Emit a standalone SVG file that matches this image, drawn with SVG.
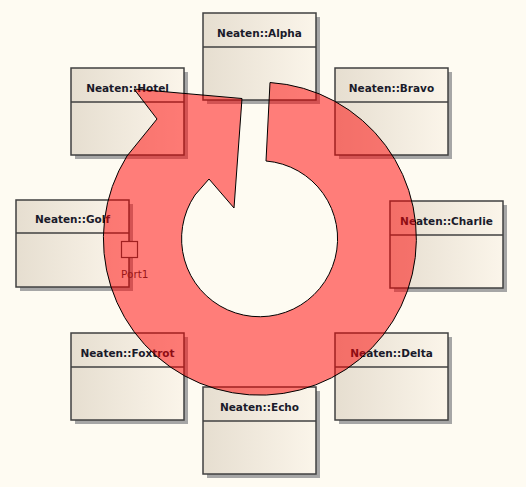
<svg xmlns="http://www.w3.org/2000/svg" width="526" height="487" viewBox="0 0 526 487">
  <defs>
    <linearGradient id="nodeFill" x1="0" y1="0" x2="1" y2="0">
      <stop offset="0" stop-color="#E6DED0"/>
      <stop offset="1" stop-color="#FBF5EA"/>
    </linearGradient>
  </defs>
  <style>
    .shadow { fill: #A6A6A6; }
    .box { fill: url(#nodeFill); stroke: #404040; stroke-width: 1.5; }
    .div { stroke: #404040; stroke-width: 1.5; }
    .name { font-family: "DejaVu Sans", sans-serif; font-weight: bold; font-size: 10.5px; fill: #1a1a2a; text-anchor: middle; }
    .port { fill: #FBF5EA; stroke: #404040; stroke-width: 1.2; }
    .plabel { font-family: "DejaVu Sans", sans-serif; font-size: 10.5px; fill: #333; }
    .arrow { fill: #FF0000; fill-opacity: 0.5; stroke: #000; stroke-width: 1; }
  </style>
  <rect x="0" y="0" width="526" height="487" fill="#FEFBF2"/>

  <g id="Alpha" transform="translate(203,13)">
    <rect class="shadow" x="4" y="4" width="113" height="87"/>
    <rect class="box" x="0" y="0" width="113" height="87"/>
    <line class="div" x1="0" y1="34" x2="113" y2="34"/>
    <text class="name" x="56.5" y="23.5">Neaten::Alpha</text>
  </g>
  <g id="Bravo" transform="translate(335,68)">
    <rect class="shadow" x="4" y="4" width="113" height="87"/>
    <rect class="box" x="0" y="0" width="113" height="87"/>
    <line class="div" x1="0" y1="34" x2="113" y2="34"/>
    <text class="name" x="56.5" y="23.5">Neaten::Bravo</text>
  </g>
  <g id="Charlie" transform="translate(390,201)">
    <rect class="shadow" x="4" y="4" width="113" height="87"/>
    <rect class="box" x="0" y="0" width="113" height="87"/>
    <line class="div" x1="0" y1="34" x2="113" y2="34"/>
    <text class="name" x="56.5" y="23.5">Neaten::Charlie</text>
  </g>
  <g id="Delta" transform="translate(335,333)">
    <rect class="shadow" x="4" y="4" width="113" height="87"/>
    <rect class="box" x="0" y="0" width="113" height="87"/>
    <line class="div" x1="0" y1="34" x2="113" y2="34"/>
    <text class="name" x="56.5" y="23.5">Neaten::Delta</text>
  </g>
  <g id="Echo" transform="translate(203,387)">
    <rect class="shadow" x="4" y="4" width="113" height="87"/>
    <rect class="box" x="0" y="0" width="113" height="87"/>
    <line class="div" x1="0" y1="34" x2="113" y2="34"/>
    <text class="name" x="56.5" y="23.5">Neaten::Echo</text>
  </g>
  <g id="Foxtrot" transform="translate(71,333)">
    <rect class="shadow" x="4" y="4" width="113" height="87"/>
    <rect class="box" x="0" y="0" width="113" height="87"/>
    <line class="div" x1="0" y1="34" x2="113" y2="34"/>
    <text class="name" x="56.5" y="23.5">Neaten::Foxtrot</text>
  </g>
  <g id="Golf" transform="translate(16,200)">
    <rect class="shadow" x="4" y="4" width="113" height="87"/>
    <rect class="box" x="0" y="0" width="113" height="87"/>
    <line class="div" x1="0" y1="33" x2="113" y2="33"/>
    <text class="name" x="56.5" y="23">Neaten::Golf</text>
  </g>
  <g id="Golf_Port1">
    <rect class="port" x="121.5" y="241.5" width="16" height="16"/>
    <text class="plabel" x="121" y="278">Port1</text>
  </g>
  <g id="Hotel" transform="translate(71,68)">
    <rect class="shadow" x="4" y="4" width="113" height="87"/>
    <rect class="box" x="0" y="0" width="113" height="87"/>
    <line class="div" x1="0" y1="34" x2="113" y2="34"/>
    <text class="name" x="56.5" y="23.5">Neaten::Hotel</text>
  </g>

  <g id="circular-arrow">
    <path class="arrow" d="M 270 82.5 A 156.5 156.5 0 1 1 127 156 L 157 119 L 134 89 L 242 98.5 L 234 208 L 209 179 L 195 195 A 78 78 0 1 0 266 161 Z"/>
  </g>
</svg>
